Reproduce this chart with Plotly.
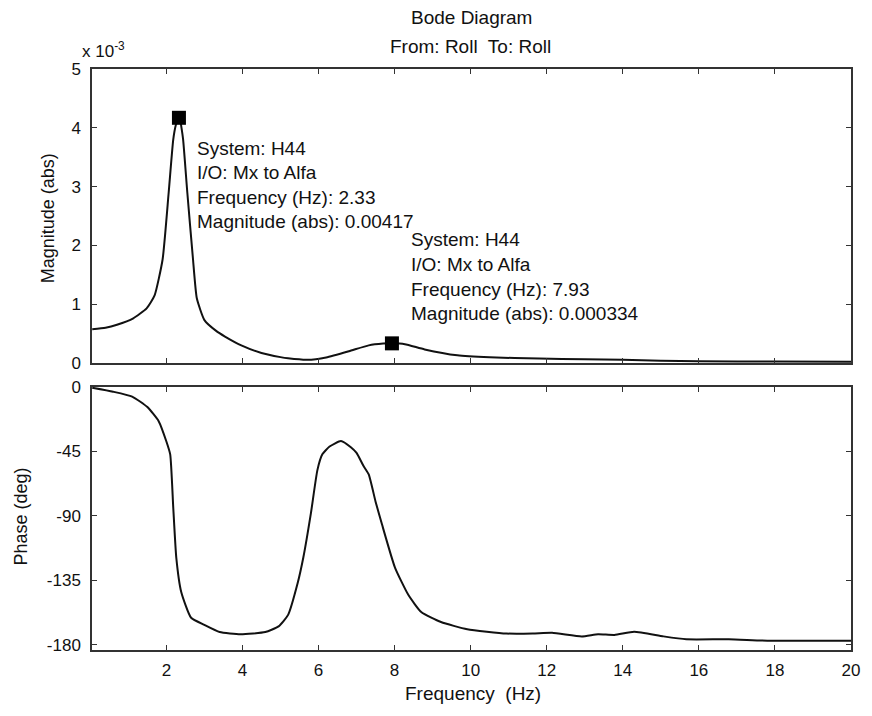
import plotly.graph_objects as go

# ---- data ----
MAG_FREQ = [0.05, 0.4, 0.7, 1.13, 1.48, 1.69, 1.9, 2.06, 2.18, 2.25, 2.30, 2.33, 2.36, 2.39,
            2.44, 2.55, 2.7, 2.8, 3.0, 3.3, 3.54, 3.97, 4.5, 5.0, 5.2, 5.7, 6.2, 6.8, 7.32,
            7.7, 7.93, 8.27, 8.79, 9.65, 10.5, 11.8, 13.0, 14.0, 15.0, 16.0, 18.0, 20.0]
MAG_ABS = [0.000575, 0.0006, 0.00065, 0.00076, 0.00093, 0.00115, 0.00176, 0.0029, 0.0038,
           0.00405, 0.00414, 0.00417, 0.00414, 0.00403, 0.0038, 0.0029, 0.00176, 0.0011,
           0.00073, 0.00055, 0.00045, 0.0003, 0.00017, 0.0001, 0.00008, 0.000055, 0.000095,
           0.0002, 0.0003, 0.00033, 0.000334, 0.00032, 0.00023, 0.00013, 0.000097, 0.000075,
           0.000065, 0.000055, 0.00004, 0.00003, 0.000025, 0.000022]

PH_FREQ = [0.05, 0.6, 1.1, 1.5, 1.8, 2.0, 2.1, 2.18, 2.26, 2.39, 2.65, 3.0, 3.4, 3.95, 4.6,
           4.95, 5.2, 5.45, 5.6, 5.8, 5.97, 6.1, 6.29, 6.59, 6.85, 7.0, 7.18, 7.32, 7.5,
           7.67, 8.01, 8.36, 8.7, 9.22, 9.91, 10.94, 11.63, 12.14, 12.92, 13.35, 13.78,
           14.3, 15.07, 15.67, 16.79, 17.8, 20.0]
PH_DEG = [-0.5, -3.3, -6.7, -14, -24, -38, -47, -84, -119, -143, -161, -166, -171, -172.5,
          -171, -167, -159, -137, -119, -88, -58, -47, -41.5, -37.7, -42, -46, -55, -61,
          -80, -96, -126, -145, -157, -164, -169, -172, -172, -171.5, -174, -172.5, -173,
          -170.7, -174, -176, -176, -177, -177]

TIP_FREQ = [2.33, 7.93]
TIP_MAG = [0.00417, 0.000334]

X_TICKS = [2, 4, 6, 8, 10, 12, 14, 16, 18, 20]
MAG_TICKS = [0, 0.001, 0.002, 0.003, 0.004, 0.005]
MAG_TICK_TEXT = ["0", "1", "2", "3", "4", "5"]
PH_TICKS = [0, -45, -90, -135, -180]
PH_TICK_TEXT = ["0", "-45", "-90", "-135", "-180"]

TIP_TEXT = [
    ["System: H44", "I/O: Mx to Alfa", "Frequency (Hz): 2.33", "Magnitude (abs): 0.00417"],
    ["System: H44", "I/O: Mx to Alfa", "Frequency (Hz): 7.93", "Magnitude (abs): 0.000334"],
]

# ---- layout geometry (reference pixels; page body adds an 8px offset) ----
O = 8
W, H = 872 - O, 716 - O
X_LEFT, X_RIGHT = 92, 857          # plot area edges in reference pixels
Y_TOP, Y_BOT = 69, 650
L, R = X_LEFT - O, 872 - X_RIGHT
T, B = Y_TOP - O, 716 - Y_BOT
PW, PH = X_RIGHT - X_LEFT, Y_BOT - Y_TOP


def px(p):
    return (p - X_LEFT) / PW


def py(p):
    return (Y_BOT - p) / PH


FONT = "Liberation Sans, Arial, sans-serif"
INK = "#111"

fig = go.Figure()
fig.add_trace(go.Scatter(x=MAG_FREQ, y=MAG_ABS, mode="lines",
                         line=dict(color=INK, width=2, shape="spline", smoothing=0.5),
                         xaxis="x", yaxis="y", showlegend=False, hoverinfo="skip"))
fig.add_trace(go.Scatter(x=PH_FREQ, y=PH_DEG, mode="lines",
                         line=dict(color=INK, width=2, shape="spline", smoothing=0.5),
                         xaxis="x2", yaxis="y2", showlegend=False, hoverinfo="skip"))
fig.add_trace(go.Scatter(x=TIP_FREQ, y=TIP_MAG, mode="markers",
                         marker=dict(symbol="square", size=14, color="black"),
                         xaxis="x", yaxis="y", showlegend=False, hoverinfo="skip"))

axis_common = dict(showline=True, linecolor="#333", linewidth=1.5, mirror="ticks",
                   ticks="inside", ticklen=5, tickcolor="#333", showgrid=False,
                   zeroline=False, tickfont=dict(family=FONT, size=17, color=INK))

top_dom = [py(363), 1.0]
bot_dom = [0.0, py(387)]

fig.update_layout(
    width=W, height=H,
    margin=dict(l=L, r=R, t=T, b=B),
    paper_bgcolor="white", plot_bgcolor="white",
    xaxis=dict(domain=[0, 1], range=[0.044, 20], tickvals=X_TICKS, showticklabels=False,
               anchor="y", **axis_common),
    yaxis=dict(domain=top_dom, range=[0, 0.005], tickvals=MAG_TICKS, ticktext=MAG_TICK_TEXT,
               anchor="x", ticklabelstandoff=6, **axis_common),
    xaxis2=dict(domain=[0, 1], range=[0.044, 20], tickvals=X_TICKS, anchor="y2",
                ticklabelstandoff=4, ticklabeloverflow="allow", **axis_common),
    yaxis2=dict(domain=bot_dom, range=[-183.5, 0], tickvals=PH_TICKS, ticktext=PH_TICK_TEXT,
                anchor="x2", ticklabelstandoff=6, **axis_common),
)

ann = []


def add_text(text, x, y, size=19, xanchor="left", angle=0):
    ann.append(dict(text=text, x=px(x), y=py(y), xref="paper", yref="paper",
                    showarrow=False, xanchor=xanchor, yanchor="middle", textangle=angle,
                    font=dict(family=FONT, size=size, color=INK)))


add_text("Bode Diagram", 474, 18, xanchor="center")
add_text("From: Roll  To: Roll", 473, 46, xanchor="center")
add_text("x 10<sup>-3</sup>", 80, 50, size=17)
add_text("Magnitude (abs)", 48, 218, xanchor="center", angle=-90, size=18)
add_text("Phase (deg)", 20, 517, xanchor="center", angle=-90, size=18)
add_text("Frequency  (Hz)", 476, 693, xanchor="center", size=19)

for lines, (x0, y0) in zip(TIP_TEXT, [(196, 148), (412, 240)]):
    for i, line in enumerate(lines):
        add_text(line, x0, y0 + 24.5 * i)

fig.update_layout(annotations=ann)
fig.write_html("out.html")
